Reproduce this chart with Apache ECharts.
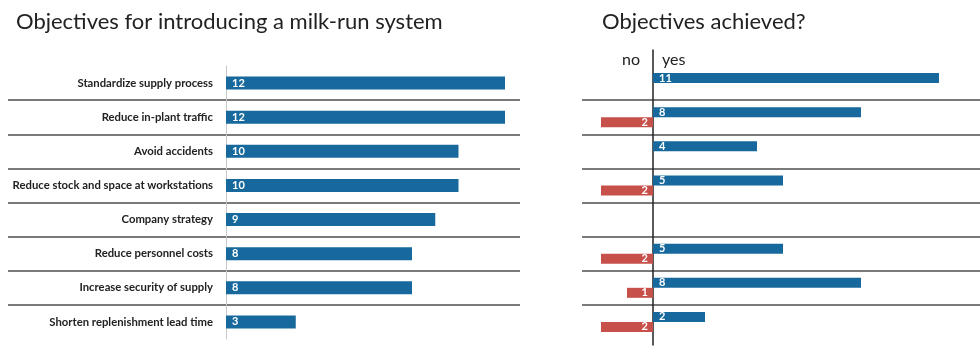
<!DOCTYPE html>
<html><head><meta charset="utf-8">
<script src="https://cdn.jsdelivr.net/npm/echarts@6/dist/echarts.min.js"></script>
<style>html,body{margin:0;padding:0;background:#fff}#c{width:980px;height:360px}</style>
</head><body><div id="c"></div>
<script>
const categories = [
  'Standardize supply process',
  'Reduce in-plant traffic',
  'Avoid accidents',
  'Reduce stock and space at workstations',
  'Company strategy',
  'Reduce personnel costs',
  'Increase security of supply',
  'Shorten replenishment lead time'
];
const importance = [12, 12, 10, 10, 9, 8, 8, 3];
const achievedYes = [11, 8, 4, 5, null, 5, 8, 2];
const achievedNo = [null, 2, null, 2, null, 2, 1, 2];

const BLUE = '#17699d', RED = '#c8504b', FONT = 'Lato';
const chart = echarts.init(document.getElementById('c'));
const sepAxis = (gi) => ({
  type: 'category', gridIndex: gi, data: categories, inverse: true,
  axisLine: {show: false}, axisTick: {show: false}, axisLabel: {show: false},
  splitLine: {show: true, interval: 0, showMinLine: false, showMaxLine: false,
    lineStyle: {color: '#4d4d4d', width: 1.5}}
});
const tStyle = (size) => ({fontFamily: FONT, fontSize: size, fontWeight: 'normal', color: '#222'});
const valLabel = {color: '#fff', fontFamily: FONT, fontSize: 11, fontWeight: 'bold'};
chart.setOption({
  animation: false,
  title: [
    {text: 'Objectives for introducing a milk-run system', left: 16, top: 11, padding: 0, textStyle: tStyle(22)},
    {text: 'Objectives achieved?', left: 602, top: 11, padding: 0, textStyle: tStyle(22)},
    {text: 'no', left: 622, top: 52, padding: 0, textStyle: tStyle(16)},
    {text: 'yes', left: 662, top: 52, padding: 0, textStyle: tStyle(16)}
  ],
  grid: [
    {left: 226, top: 66, width: 279, height: 273},
    {left: 8, top: 66, width: 512, height: 273},
    {left: 575, top: 66, width: 390, height: 273},
    {left: 582, top: 66, width: 398, height: 273},
    {left: 653, top: 50, width: 1, height: 295}
  ],
  xAxis: [
    {type: 'value', gridIndex: 0, min: 0, max: 12, show: false},
    {type: 'value', gridIndex: 1, show: false},
    {type: 'value', gridIndex: 2, min: -3, max: 12, show: false},
    {type: 'value', gridIndex: 3, show: false},
    {type: 'value', gridIndex: 4, show: false}
  ],
  yAxis: [
    {type: 'category', gridIndex: 0, data: categories, inverse: true,
     axisLine: {show: true, lineStyle: {color: '#c8c8c8', width: 1}},
     axisTick: {show: false}, splitLine: {show: false},
     axisLabel: {margin: 13, fontFamily: FONT, fontSize: 11.3, fontWeight: 'bold', color: '#222'}},
    sepAxis(1),
    {type: 'category', gridIndex: 2, data: categories, inverse: true,
     axisLine: {show: false}, axisTick: {show: false}, axisLabel: {show: false}, splitLine: {show: false}},
    sepAxis(3),
    {type: 'value', gridIndex: 4, min: 0, max: 1, axisLabel: {show: false}, axisTick: {show: false},
     splitLine: {show: false}, axisLine: {show: true, onZero: false, lineStyle: {color: '#222', width: 1.5}}}
  ],
  series: [
    {type: 'bar', xAxisIndex: 0, yAxisIndex: 0, data: importance, barWidth: 13,
     itemStyle: {color: BLUE},
     label: Object.assign({show: true, position: 'insideLeft', distance: 6}, valLabel)},
    {type: 'bar', xAxisIndex: 2, yAxisIndex: 2, data: achievedYes, barWidth: 10, barGap: '0%',
     itemStyle: {color: BLUE},
     label: Object.assign({show: true, position: 'insideLeft', distance: 6}, valLabel)},
    {type: 'bar', xAxisIndex: 2, yAxisIndex: 2, data: achievedNo.map(v => v == null ? null : -v),
     barWidth: 10, barGap: '0%',
     itemStyle: {color: RED},
     label: Object.assign({show: true, position: 'insideRight', distance: 5,
       formatter: p => Math.abs(p.value)}, valLabel)}
  ]
});
</script></body></html>
